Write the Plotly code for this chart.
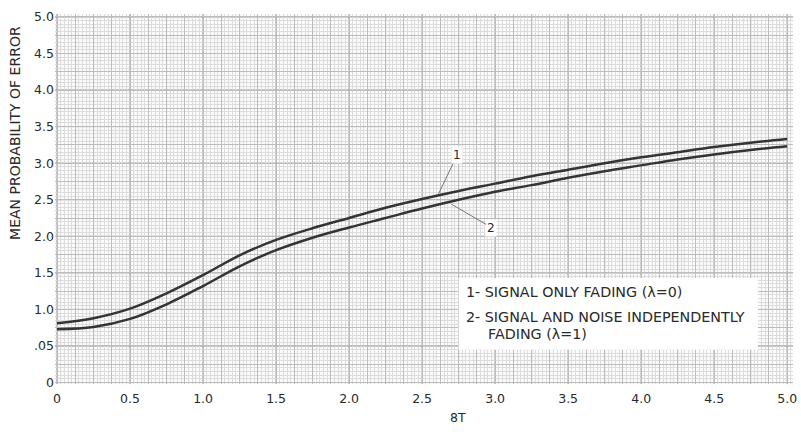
import plotly.graph_objects as go

# Bandwidth-time product (8T) sample points
bt = [0.0, 0.25, 0.5, 0.75, 1.0, 1.25, 1.5, 1.75, 2.0, 2.25, 2.5,
      2.75, 3.0, 3.25, 3.5, 3.75, 4.0, 4.25, 4.5, 4.75, 5.0]

# Curve 1: signal only fading (lambda = 0)
err_signal_only = [0.81, 0.88, 1.01, 1.22, 1.47, 1.74, 1.95, 2.11, 2.25, 2.39, 2.51,
                   2.62, 2.72, 2.82, 2.91, 3.00, 3.08, 3.15, 3.22, 3.28, 3.33]

# Curve 2: signal and noise independently fading (lambda = 1)
err_both_fading = [0.73, 0.76, 0.87, 1.07, 1.32, 1.59, 1.81, 1.98, 2.12, 2.25, 2.38,
                   2.50, 2.61, 2.70, 2.80, 2.89, 2.97, 3.05, 3.12, 3.18, 3.23]

x_tick_vals = [0, 0.5, 1.0, 1.5, 2.0, 2.5, 3.0, 3.5, 4.0, 4.5, 5.0]
x_tick_text = ["0", "0.5", "1.0", "1.5", "2.0", "2.5", "3.0", "3.5", "4.0", "4.5", "5.0"]
y_tick_vals = [0, 0.5, 1.0, 1.5, 2.0, 2.5, 3.0, 3.5, 4.0, 4.5, 5.0]
y_tick_text = ["0", ".05", "1.0", "1.5", "2.0", "2.5", "3.0", "3.5", "4.0", "4.5", "5.0"]

legend_lines = ["1- SIGNAL ONLY FADING (\u03bb=0)",
                "2- SIGNAL AND NOISE INDEPENDENTLY",
                "FADING (\u03bb=1)"]

INK = "#2a2a2a"
CURVE = "#343434"
FONT = "DejaVu Sans"
X_RANGE = [-0.014, 5.04]
Y_RANGE = [-0.02, 5.04]

fig = go.Figure()

fig.add_trace(go.Scatter(x=bt, y=err_signal_only, mode="lines",
                         line=dict(color=CURVE, width=2.5, shape="spline"),
                         showlegend=False, hoverinfo="skip"))
fig.add_trace(go.Scatter(x=bt, y=err_both_fading, mode="lines",
                         line=dict(color=CURVE, width=2.5, shape="spline"),
                         showlegend=False, hoverinfo="skip"))

# invisible trace that anchors the overlay axes carrying the medium grid
fig.add_trace(go.Scatter(x=[X_RANGE[0]], y=[Y_RANGE[0]], xaxis="x2", yaxis="y2",
                         mode="markers", marker=dict(opacity=0),
                         showlegend=False, hoverinfo="skip"))

fig.update_layout(
    width=801, height=434,
    margin=dict(l=55, r=4, t=14, b=50),
    paper_bgcolor="white",
    plot_bgcolor="#fbfbfb",
    font=dict(family=FONT, color=INK, size=12),
    xaxis=dict(range=X_RANGE, tickmode="array", tickvals=x_tick_vals, ticktext=x_tick_text,
               showgrid=True, gridcolor="#747474", gridwidth=1.2,
               minor=dict(showgrid=True, dtick=0.025, tick0=0,
                          gridcolor="#dcdcdc", gridwidth=1),
               zeroline=False, showline=False, ticks="",
               ticklabelstandoff=5, ticklabeloverflow="allow",
               tickfont=dict(size=12.5, color=INK)),
    yaxis=dict(range=Y_RANGE, tickmode="array", tickvals=y_tick_vals, ticktext=y_tick_text,
               showgrid=True, gridcolor="#747474", gridwidth=1.2,
               minor=dict(showgrid=True, dtick=0.05, tick0=0,
                          gridcolor="#dcdcdc", gridwidth=1),
               zeroline=False, showline=False, ticks="",
               tickfont=dict(size=12.5, color=INK)),
    xaxis2=dict(range=X_RANGE, overlaying="x", showgrid=True, dtick=0.125, tick0=0,
                gridcolor="#bcbcbc", gridwidth=1, showticklabels=False,
                zeroline=False, showline=False),
    yaxis2=dict(range=Y_RANGE, overlaying="y", showgrid=True, dtick=0.25, tick0=0,
                gridcolor="#bcbcbc", gridwidth=1, showticklabels=False,
                zeroline=False, showline=False),
)

# dark grid lines at 0.25 spacing in x and 0.5 spacing in y
major_x = [i * 0.25 for i in range(21)]
major_y = [i * 0.5 for i in range(11)]
for xv in major_x:
    fig.add_shape(type="line", xref="x", yref="paper", x0=xv, x1=xv, y0=0, y1=1,
                  line=dict(color="#858585", width=1), layer="below")
for yv in major_y:
    fig.add_shape(type="line", xref="paper", yref="y", x0=0, x1=1, y0=yv, y1=yv,
                  line=dict(color="#858585", width=1), layer="below")

# white legend panel
fig.add_shape(type="rect", xref="x", yref="y", x0=2.75, x1=4.80, y0=0.45, y1=1.43,
              fillcolor="white", line=dict(width=0), layer="above")

for text, xv, yv in zip(legend_lines, [2.79, 2.79, 2.94], [1.24, 0.90, 0.66]):
    fig.add_annotation(x=xv, y=yv, xref="x", yref="y", text=text, showarrow=False,
                       xanchor="left", yanchor="middle",
                       font=dict(size=14.3, color=INK, family=FONT))

# curve identifiers with leader lines
fig.add_annotation(x=2.61, y=2.57, ax=2.74, ay=3.11, axref="x", ayref="y",
                   xref="x", yref="y", text="1", showarrow=True,
                   arrowhead=0, arrowwidth=1, arrowcolor="#777777",
                   bgcolor="white", font=dict(size=12, color=INK))
fig.add_annotation(x=2.70, y=2.44, ax=2.975, ay=2.12, axref="x", ayref="y",
                   xref="x", yref="y", text="2", showarrow=True,
                   arrowhead=0, arrowwidth=1, arrowcolor="#777777",
                   bgcolor="white", font=dict(size=12, color=INK))

# axis titles
fig.add_annotation(x=-0.054, y=0.679, xref="paper", yref="paper",
                   xanchor="center", yanchor="middle",
                   text="MEAN PROBABILITY OF ERROR", textangle=-90, showarrow=False,
                   font=dict(size=14, color=INK, family=FONT))
fig.add_annotation(x=0.546, y=-0.09, xref="paper", yref="paper",
                   xanchor="center", yanchor="middle",
                   text="8T", showarrow=False,
                   font=dict(size=12.5, color=INK, family=FONT))

fig.write_html("out.html")
